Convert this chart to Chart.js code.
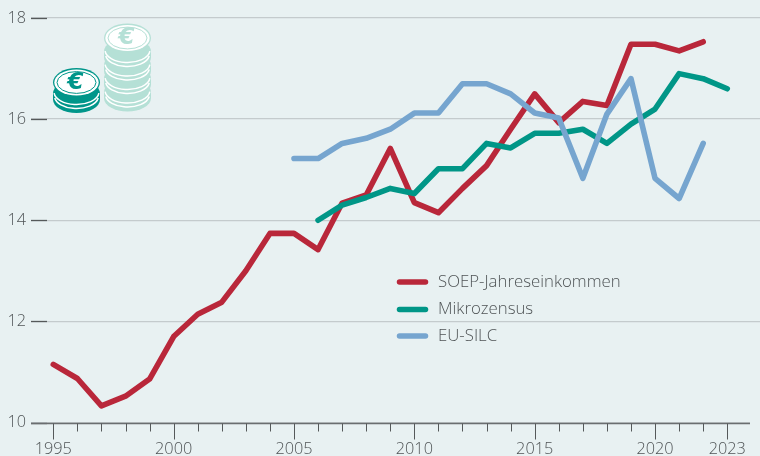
<!DOCTYPE html>
<html><head><meta charset="utf-8">
<style>html,body{margin:0;padding:0;background:#e8f1f2;width:760px;height:456px;overflow:hidden}canvas{display:block}</style>
<script src="https://cdn.jsdelivr.net/npm/chart.js@4"></script></head>
<body><canvas id="c" width="760" height="456"></canvas>
<script>
const years=[1995,1996,1997,1998,1999,2000,2001,2002,2003,2004,2005,2006,2007,2008,2009,2010,2011,2012,2013,2014,2015,2016,2017,2018,2019,2020,2021,2022,2023];
const soep=[11.15,10.87,10.33,10.52,10.86,11.7,12.14,12.38,13.0,13.74,13.74,13.42,14.34,14.5,15.42,14.35,14.15,14.63,15.08,15.8,16.5,15.93,16.35,16.27,17.48,17.48,17.35,17.53,null];
const mikro=[null,null,null,null,null,null,null,null,null,null,null,14.0,14.3,14.45,14.63,14.53,15.02,15.02,15.52,15.43,15.72,15.72,15.8,15.52,15.9,16.2,16.9,16.8,16.6];
const silc=[null,null,null,null,null,null,null,null,null,null,15.22,15.22,15.52,15.62,15.8,16.12,16.12,16.7,16.7,16.5,16.12,16.02,14.83,16.1,16.8,14.83,14.43,15.52,null];
const labeledYears=[1995,2000,2005,2010,2015,2020,2023];
const yTicks=[10,12,14,16,18];
const seriesNames=["SOEP-Jahreseinkommen","Mikrozensus","EU-SILC"];
const FONT='"Open Sans", sans-serif';
const TXT='#4f5456';
function coinStack(ctx,cx,faceY,rx,ry,layers,gap,color){
  const h=6;
  for(let i=layers;i>=1;i--){
    const y=faceY+i*gap;
    ctx.fillStyle=color;
    ctx.beginPath();ctx.ellipse(cx,y+h,rx,ry,0,0,Math.PI*2);ctx.fill();
    ctx.fillRect(cx-rx,y,rx*2,h);
    ctx.beginPath();ctx.ellipse(cx,y,rx,ry,0,0,Math.PI*2);ctx.fill();
    ctx.strokeStyle='#fff';ctx.lineWidth=1.5;
    ctx.beginPath();ctx.ellipse(cx,y+2.5,rx-1.5,ry-1,0,0.05*Math.PI,0.95*Math.PI);ctx.stroke();
    ctx.beginPath();ctx.ellipse(cx,y-1.5,rx-1,ry-1,0,0.03*Math.PI,0.97*Math.PI);ctx.stroke();
  }
  ctx.fillStyle=color;
  ctx.beginPath();ctx.ellipse(cx,faceY,rx,ry+1,0,0,Math.PI*2);ctx.fill();
  ctx.fillStyle='#fff';
  ctx.beginPath();ctx.ellipse(cx,faceY,rx-1.3,ry-0.4,0,0,Math.PI*2);ctx.fill();
  ctx.strokeStyle=color;ctx.lineWidth=1;
  ctx.beginPath();ctx.ellipse(cx,faceY,rx-4,ry-2.6,0,0,Math.PI*2);ctx.stroke();
  ctx.fillStyle=color;ctx.font='italic bold 23px "DejaVu Sans"';ctx.textAlign='center';ctx.textBaseline='middle';
  ctx.fillText('€',cx-1,faceY+0.5);
}
const decor={
  id:'decor',
  afterDraw(chart){
    const ctx=chart.ctx,x=chart.scales.x,y=chart.scales.y;
    ctx.save();
    ctx.strokeStyle='#55595a';ctx.lineWidth=1.3;
    yTicks.forEach(v=>{const p=Math.round(y.getPixelForValue(v))+0.5;ctx.beginPath();ctx.moveTo(31,p);ctx.lineTo(47,p);ctx.stroke();});
    const by=Math.round(y.getPixelForValue(10))+0.5;
    ctx.strokeStyle='#e8f1f2';ctx.lineWidth=3;ctx.beginPath();ctx.moveTo(750,by);ctx.lineTo(760,by);ctx.stroke();
    ctx.strokeStyle='#6a6e70';ctx.lineWidth=1.3;ctx.beginPath();ctx.moveTo(31,by);ctx.lineTo(750,by);ctx.stroke();
    years.forEach(v=>{
      const p=Math.round(x.getPixelForValue(v))+0.5,major=labeledYears.includes(v);
      ctx.strokeStyle='#55595a';ctx.lineWidth=1;
      ctx.beginPath();ctx.moveTo(p,by);ctx.lineTo(p,by+(major?16:8));ctx.stroke();
    });
    const ly=[282,309.5,336];
    chart.data.datasets.forEach((d,i)=>{
      ctx.strokeStyle=d.borderColor;ctx.lineWidth=5.5;ctx.lineCap='round';
      ctx.beginPath();ctx.moveTo(399.5,ly[i]);ctx.lineTo(425.5,ly[i]);ctx.stroke();
      ctx.fillStyle=TXT;ctx.font='300 16.8px '+FONT;ctx.textAlign='left';ctx.textBaseline='middle';
      ctx.fillText(d.label,438,ly[i]);
    });
    ctx.lineCap='butt';
    coinStack(ctx,127.5,38,23.5,13.5,4,13.5,'#b5e0d6');
    coinStack(ctx,76.5,82.5,23.5,13.5,1,11,'#00968a');
    ctx.restore();
  }
};
const mk=(label,data,color,order)=>({label,data:years.map((yr,i)=>({x:yr,y:data[i]})),order,borderColor:color,backgroundColor:color,borderWidth:5.6,pointRadius:0,tension:0,spanGaps:false,borderJoinStyle:'round',borderCapStyle:'round',clip:false});
new Chart(document.getElementById('c'),{
  type:'line',
  data:{datasets:[mk(seriesNames[0],soep,'#b9273a',3),mk(seriesNames[1],mikro,'#009687',2),mk(seriesNames[2],silc,'#76a5cf',1)]},
  plugins:[decor],
  options:{
    responsive:false,animation:false,events:[],
    layout:{padding:{top:18,left:0,right:0,bottom:0}},
    plugins:{legend:{display:false},tooltip:{enabled:false}},
    scales:{
      x:{type:'linear',min:1995-22.3/24.07,max:1995+706.7/24.07,
        afterFit(s){s.height=33.5;s.paddingRight=0;s.paddingLeft=0;},
        afterBuildTicks(s){s.ticks=labeledYears.map(v=>({value:v}));},
        grid:{display:false},border:{display:false},
        ticks:{autoSkip:false,maxRotation:0,padding:9,color:TXT,font:{family:FONT,size:16.3,weight:300},callback:v=>String(v)}},
      y:{min:10,max:18,
        afterFit(s){s.width=31;s.paddingTop=0;s.paddingBottom=0;},
        afterBuildTicks(s){s.ticks=yTicks.map(v=>({value:v}));},
        grid:{color:'#c4cbcd',lineWidth:1.3,drawTicks:false},border:{display:false},
        ticks:{padding:5,color:TXT,font:{family:FONT,size:16.3,weight:300}}}
    }
  }
});
</script></body></html>
